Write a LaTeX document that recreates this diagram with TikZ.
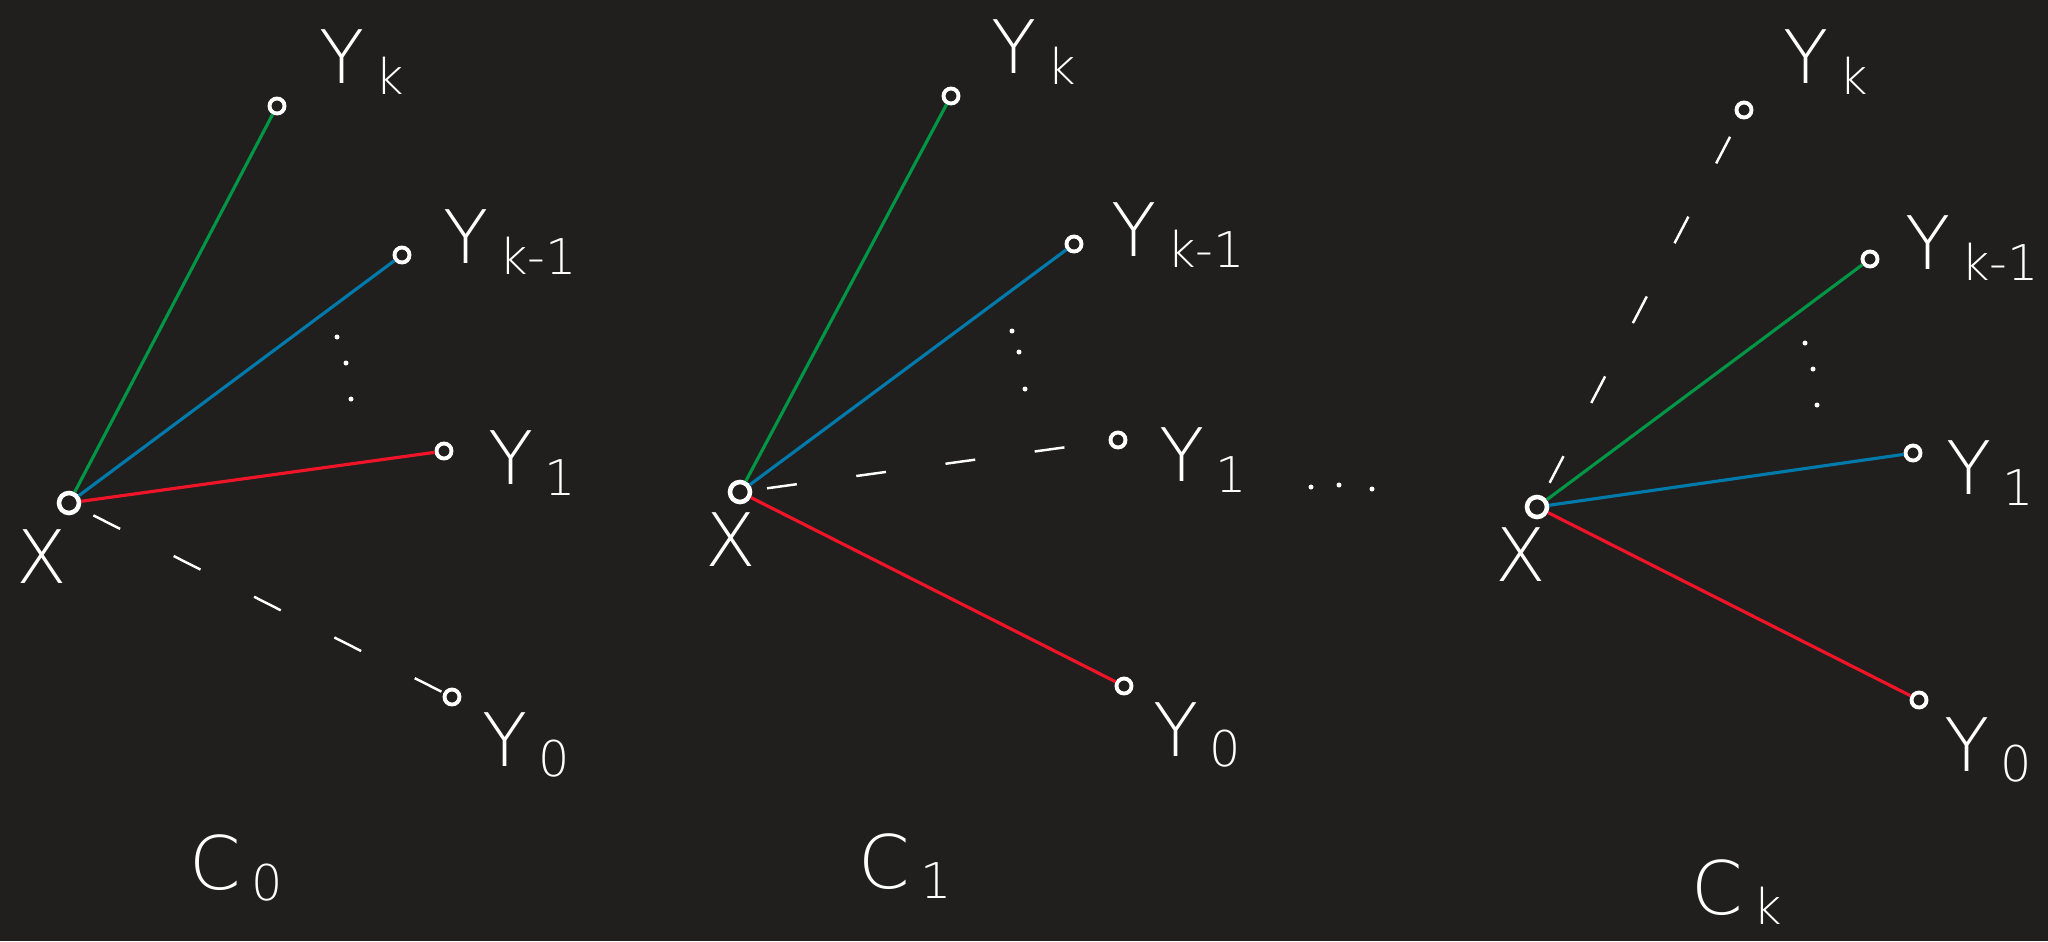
\documentclass[tikz,border=0pt]{standalone}
\usepackage{fontspec}
\setmainfont{DejaVu Sans ExtraLight}
\definecolor{bgc}{RGB}{32,31,30}
\definecolor{cgreen}{RGB}{0,150,70}
\definecolor{cblue}{RGB}{0,122,170}
\definecolor{cred}{RGB}{240,20,40}
\newcommand{\yl}[1]{Y\kern3pt\raisebox{-3pt}{\fontsize{14}{14}\selectfont #1}}
\newcommand{\cl}[1]{C\kern3pt\raisebox{-3pt}{\fontsize{14}{14}\selectfont #1}}
\begin{document}
\begin{tikzpicture}[x=0.01cm,y=-0.01cm,
  pt/.style={circle,draw=white,line width=1.1pt,minimum size=0.15cm,inner sep=0pt},
  xpt/.style={circle,draw=white,line width=1.3pt,minimum size=0.2cm,inner sep=0pt},
  sdot/.style={circle,fill=white,minimum size=0.05cm,inner sep=0pt},
  lab/.style={text=white,font=\fontsize{21}{21}\selectfont,inner sep=0pt},
  gl/.style={draw=cgreen,line width=0.9pt},
  bl/.style={draw=cblue,line width=0.9pt},
  rl/.style={draw=cred,line width=0.9pt},
  dsh/.style={draw=white,line width=0.7pt,dash pattern=on 0.3cm off 0.6cm,shorten <=0.15cm}]
\fill[bgc] (0,0) rectangle (2048,941);
\useasboundingbox (0,0) rectangle (2048,941);

% ---------- panel C0 ----------
\node[xpt] (xa) at (69,503) {};
\node[pt] (ka) at (277,106) {};
\node[pt] (kma) at (402,255) {};
\node[pt] (ya1) at (444,451) {};
\node[pt] (ya0) at (452,697) {};
\draw[gl] (xa) -- (ka);
\draw[bl] (xa) -- (kma);
\draw[rl] (xa) -- (ya1);
\draw[dsh] (xa) -- (ya0);
\node[sdot] (va1) at (337,337) {};
\node[sdot] (va2) at (346,363) {};
\node[sdot] (va3) at (351,399) {};
\node[lab] (lxa) at (42,557) {X};
\node[lab] (lka) at (362,62) {\yl{k}};
\node[lab] (lkma) at (510,242) {\yl{k-1}};
\node[lab] (lya1) at (532,463) {\yl{1}};
\node[lab] (lya0) at (526,745) {\yl{0}};
\node[lab] (lca) at (236,868) {\cl{0}};

% ---------- panel C1 ----------
\node[xpt] (xb) at (740,492) {};
\node[pt] (kb) at (951,96) {};
\node[pt] (kmb) at (1074,244) {};
\node[pt] (yb1) at (1118,440) {};
\node[pt] (yb0) at (1124,686) {};
\draw[gl] (xb) -- (kb);
\draw[bl] (xb) -- (kmb);
\draw[dsh] (xb) -- (yb1);
\draw[rl] (xb) -- (yb0);
\node[sdot] (vb1) at (1012,331) {};
\node[sdot] (vb2) at (1019,352) {};
\node[sdot] (vb3) at (1025,389) {};
\node[lab] (lxb) at (731,540) {X};
\node[lab] (lkb) at (1034,52) {\yl{k}};
\node[lab] (lkmb) at (1178,235) {\yl{k-1}};
\node[lab] (lyb1) at (1203,460) {\yl{1}};
\node[lab] (lyb0) at (1197,735) {\yl{0}};
\node[lab] (lcb) at (905,866) {\cl{1}};

% ---------- middle dots ----------
\node[sdot] (m1) at (1311,487) {};
\node[sdot] (m2) at (1339,485) {};
\node[sdot] (m3) at (1372,489) {};

% ---------- panel Ck ----------
\node[xpt] (xc) at (1537,507) {};
\node[pt] (kc) at (1744,110) {};
\node[pt] (kmc) at (1870,259) {};
\node[pt] (yc1) at (1913,453) {};
\node[pt] (yc0) at (1919,700) {};
\draw[dsh] (xc) -- (kc);
\draw[gl] (xc) -- (kmc);
\draw[bl] (xc) -- (yc1);
\draw[rl] (xc) -- (yc0);
\node[sdot] (vc1) at (1805,343) {};
\node[sdot] (vc2) at (1813,369) {};
\node[sdot] (vc3) at (1817,405) {};
\node[lab] (lxc) at (1521,555) {X};
\node[lab] (lkc) at (1826,62) {\yl{k}};
\node[lab] (lkmc) at (1972,248) {\yl{k-1}};
\node[lab] (lyc1) at (1990,473) {\yl{1}};
\node[lab] (lyc0) at (1988,750) {\yl{0}};
\node[lab] (lcc) at (1737,892) {\cl{k}};
\end{tikzpicture}
\end{document}
